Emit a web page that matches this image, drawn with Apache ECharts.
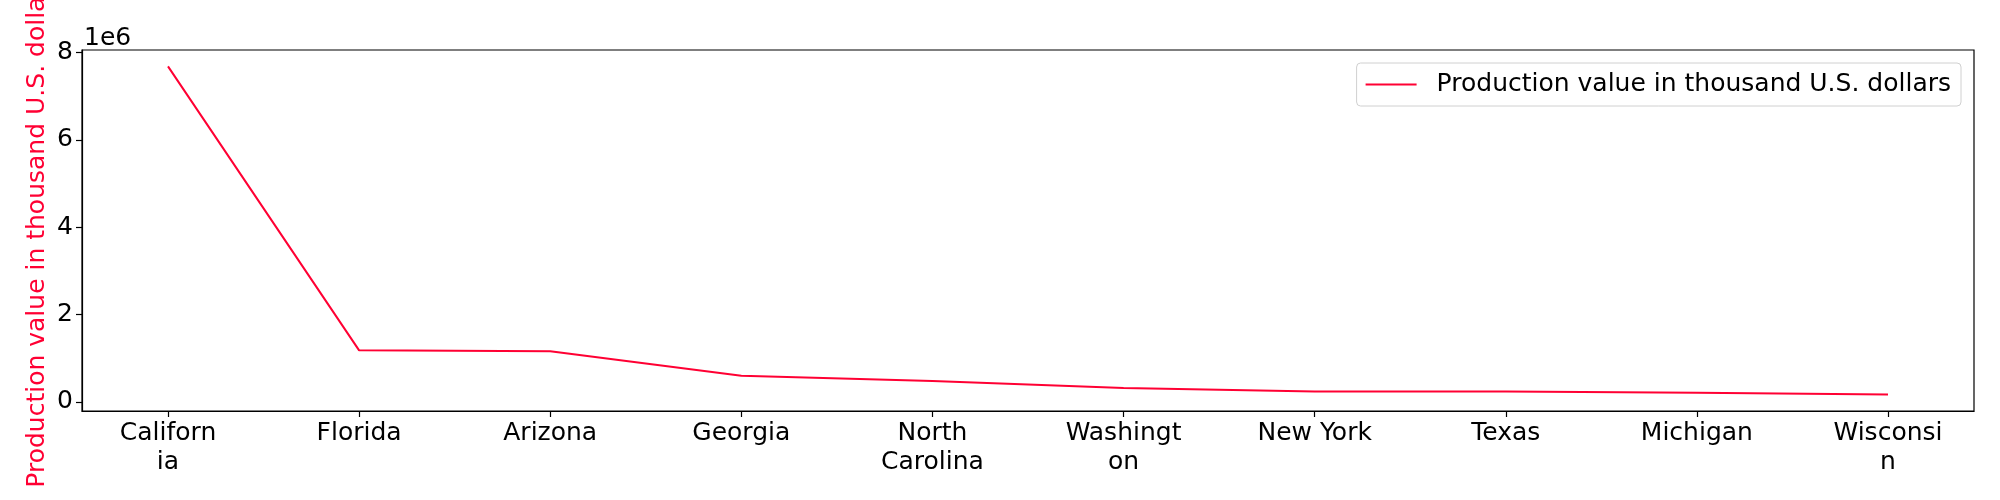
<!DOCTYPE html>
<html>
<head>
<meta charset="utf-8">
<script src="https://cdn.jsdelivr.net/npm/echarts@6/dist/echarts.min.js"></script>
<style>html,body{margin:0;padding:0;background:#fff}#c{width:2000px;height:500px}</style>
</head>
<body>
<div id="c"></div>
<script>
const categories = ["Californ\nia", "Florida", "Arizona", "Georgia", "North\nCarolina", "Washingt\non", "New York", "Texas", "Michigan", "Wisconsi\nn"];
const values = [7680000, 1180000, 1160000, 600000, 480000, 320000, 240000, 235000, 210000, 167000];
const yTicks = [0, 2000000, 4000000, 6000000, 8000000];
const seriesName = "Production value in thousand U.S. dollars";
const yTitle = "Production value in thousand U.S. dollars";

const red = '#ff0033';
const font = 'DejaVu Sans';
const fs = 25;
const xIdx = categories.map((_, i) => i);

const chart = echarts.init(document.getElementById('c'), null, {renderer: 'canvas'});
chart.setOption({
  animation: false,
  backgroundColor: '#fff',
  textStyle: {fontFamily: font},
  grid: {left: 82, right: 26, top: 50, bottom: 89, show: true, borderColor: '#000', borderWidth: 1.2,
    containLabel: false, outerBoundsMode: 'none'},
  graphic: [
    {type: 'text', left: 84, top: 26, style: {text: '1e6', font: fs + 'px "DejaVu Sans"', fill: '#000'}},
    {type: 'text', x: 37, y: 230.5, rotation: Math.PI / 2,
      style: {text: yTitle, font: fs + 'px "DejaVu Sans"', fill: red, align: 'center', verticalAlign: 'middle'}}
  ],
  legend: {
    right: 39, top: 63, orient: 'horizontal',
    data: [{name: seriesName, icon: 'path://M0,0H51V2H0Z'}],
    itemWidth: 51, itemHeight: 2,
    padding: [9, 10, 9, 9],
    borderColor: '#d0d0d0', borderWidth: 1, borderRadius: 4,
    backgroundColor: 'rgba(255,255,255,0.8)',
    textStyle: {fontFamily: font, fontSize: fs, color: '#000', padding: [0, 0, 0, 15]}
  },
  xAxis: {
    type: 'value', min: -0.45, max: categories.length - 1 + 0.45,
    splitLine: {show: false},
    axisLine: {show: true, onZero: false, lineStyle: {color: '#000', width: 1.2}},
    axisTick: {show: true, length: 6, lineStyle: {color: '#000', width: 1.2}, customValues: xIdx},
    axisLabel: {customValues: xIdx, margin: 8, color: '#000', fontFamily: font, fontSize: fs, lineHeight: 29,
      formatter: v => categories[Math.round(v)] || ''}
  },
  yAxis: {
    type: 'value', min: -209000, max: 8056000,
    splitLine: {show: false},
    axisLine: {show: true, onZero: false, lineStyle: {color: '#000', width: 1.2}},
    axisTick: {show: true, length: 6, lineStyle: {color: '#000', width: 1.2}, customValues: yTicks},
    axisLabel: {customValues: yTicks, margin: 9, color: '#000', fontFamily: font, fontSize: fs,
      formatter: v => String(Math.round(v / 1e6))}
  },
  series: [{
    name: seriesName, type: 'line', symbol: 'none',
    data: values.map((v, i) => [i, v]),
    lineStyle: {color: red, width: 2},
    itemStyle: {color: red}
  }]
});
</script>
</body>
</html>
